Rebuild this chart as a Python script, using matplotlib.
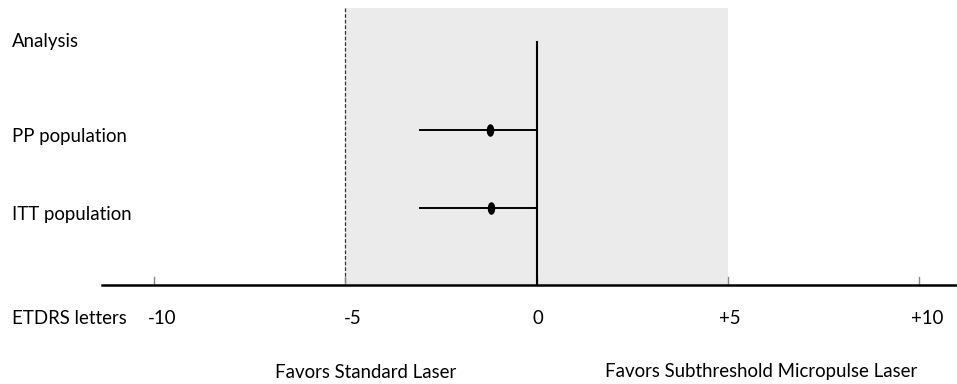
import matplotlib.pyplot as plt
from matplotlib.path import Path
from matplotlib.transforms import Affine2D

plt.rcParams['font.family'] = ['Lato', 'DejaVu Sans']

# data
rows = ["PP population", "ITT population"]
estimates = [-1.22, -1.19]
lower = [-3.06, -3.06]
upper = [0.0, 0.0]
tick_values = [-10, -5, 0, 5, 10]
tick_labels = ["-10", "-5", "0", "+5", "+10"]
margin = 5

# layout (y in pixel-like units, top = 0)
label_shift = [0.2, 0.2, 0.03, 0.05, 0.22]
row_y = [129.5, 207.5]
axis_y = 285
top_y = 8
FS = 13.4

fig = plt.figure(figsize=(9.57, 3.84), dpi=100)
ax = fig.add_axes([0, 0, 1, 1])
ax.set_xlim(-14.03, 10.99)
ax.set_ylim(384, 0)
ax.axis("off")

# non-inferiority region
ax.fill_between([-margin, margin], top_y, axis_y, color="#ebebeb", lw=0, zorder=0)
ax.plot([-margin, -margin], [top_y, axis_y], color="#333333", lw=0.9,
        linestyle=(0, (3, 1.5)), zorder=2)

# zero line
ax.plot([0, 0], [42, axis_y], color="black", lw=1.5, zorder=3)

# x axis
ax.plot([-11.36, 10.99], [axis_y, axis_y], color="black", lw=1.8, zorder=3)
for v, lab, sh in zip(tick_values, tick_labels, label_shift):
    ax.plot([v, v], [axis_y - 8, axis_y], color="#888888", lw=1, zorder=2)
    ax.text(v + sh, 318, lab, ha="center", va="center", fontsize=FS)

ellipse = Path.unit_circle().transformed(Affine2D().scale(0.55, 1.0))
for y, est, lo, hi in zip(row_y, estimates, lower, upper):
    ax.plot([lo, hi], [y, y], color="black", lw=1.4, zorder=4)
    ax.plot(est, y, marker=ellipse, markersize=8, color="black", zorder=5)

ax.text(-13.72, 41, "Analysis", ha="left", va="center", fontsize=FS)
for y, name in zip(row_y, rows):
    ax.text(-13.72, y + 7, name, ha="left", va="center", fontsize=FS)
ax.text(-13.72, 318, "ETDRS letters", ha="left", va="center", fontsize=FS)

ax.text(-4.48, 372, "Favors Standard Laser", ha="center", va="center", fontsize=FS)
ax.text(5.88, 372, "Favors Subthreshold Micropulse Laser", ha="center",
        va="center", fontsize=FS)

fig.savefig("out.png", dpi=100)
